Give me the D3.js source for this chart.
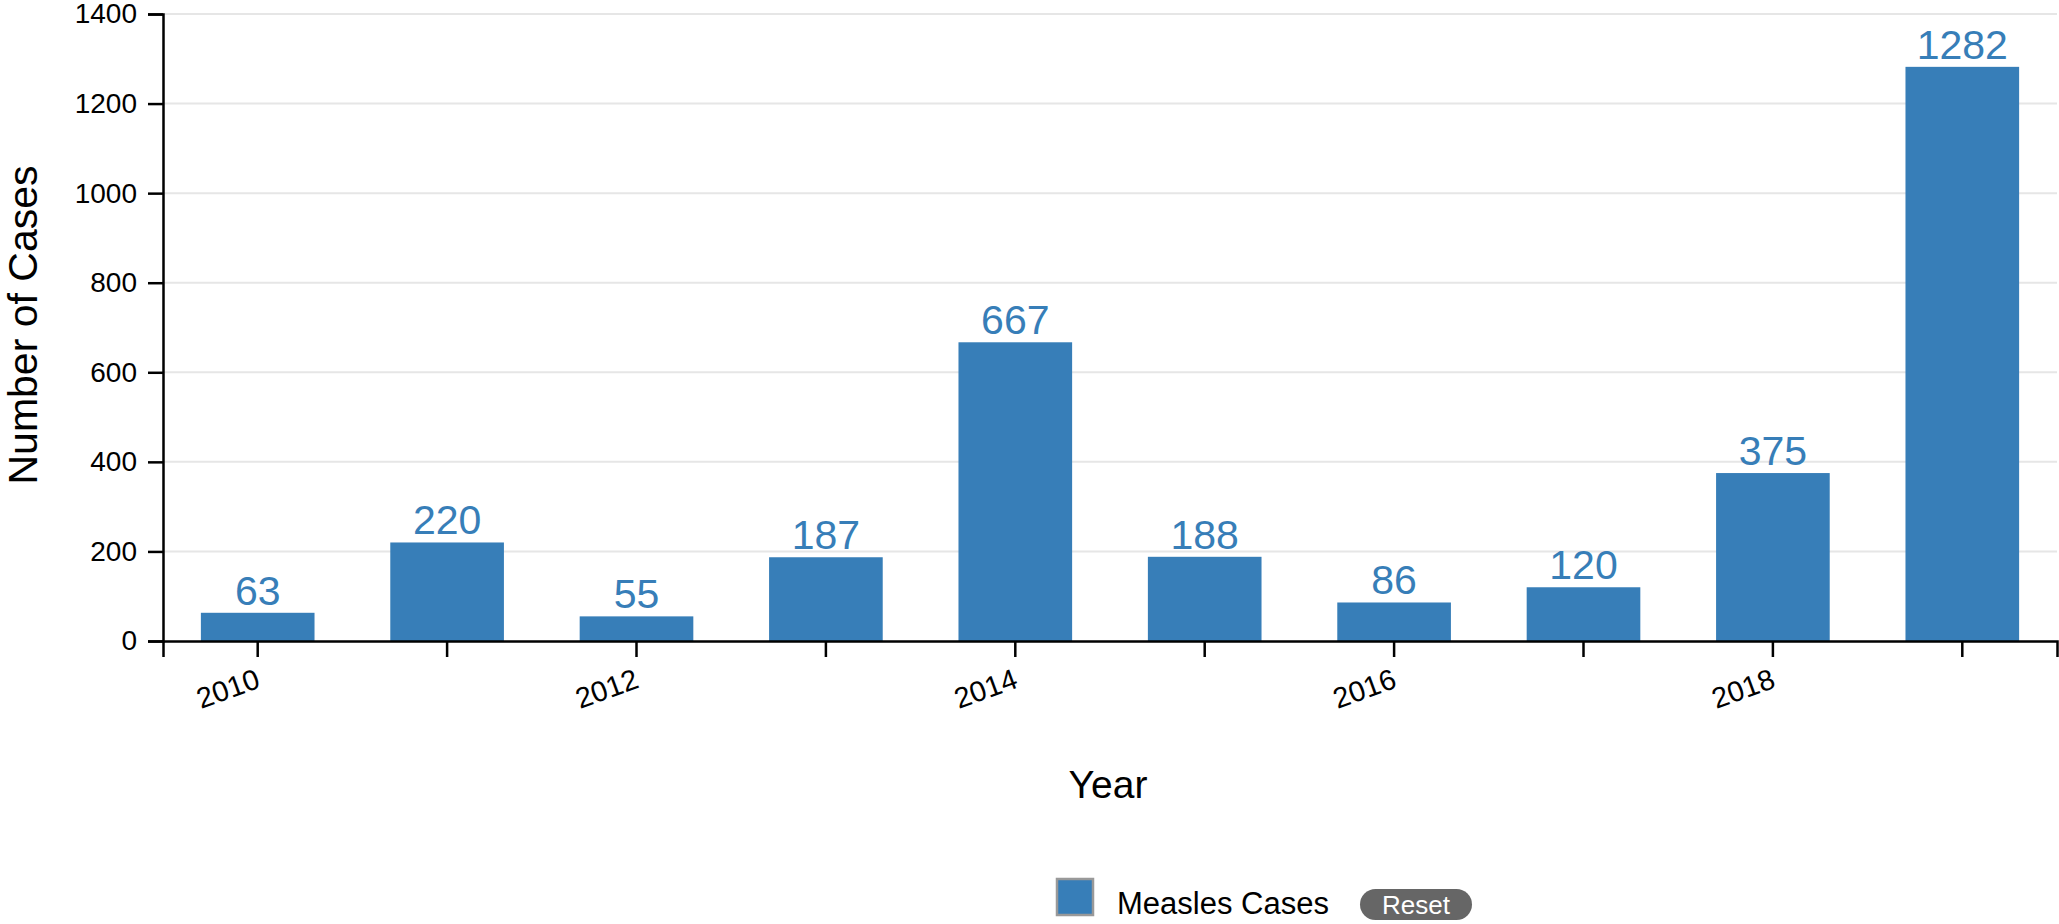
<!DOCTYPE html>
<html>
<head>
<meta charset="utf-8">
<script src="https://cdn.jsdelivr.net/npm/d3@7.9.0/dist/d3.min.js"></script>
<style>
  body { margin: 0; background: #fff; }
  svg { display: block; font-family: "Liberation Sans", Arial, Helvetica, sans-serif; }
  .axis path, .axis line { stroke: #000; stroke-width: 2.5; }
  .axis text { fill: #000; }
  .grid line { stroke: #e6e6e6; stroke-width: 2; }
</style>
</head>
<body>
<svg id="chart" width="2059" height="924"></svg>
<script>
// data
const years = [2010, 2011, 2012, 2013, 2014, 2015, 2016, 2017, 2018, 2019];
const cases = [63, 220, 55, 187, 667, 188, 86, 120, 375, 1282];
const yTicks = [0, 200, 400, 600, 800, 1000, 1200, 1400];
const seriesName = 'Measles Cases';

const barColor = '#377eb8';
const fontFamily = '"Liberation Sans", Arial, Helvetica, sans-serif';
const plotLeft = 163, plotRight = 2057, plotTop = 14, plotBottom = 641;

const svg = d3.select('#chart');

let x = d3.scaleBand()
  .domain(years)
  .range([plotLeft, plotRight])
  .paddingInner(0.4)
  .paddingOuter(0.2);

let y = d3.scaleLinear()
  .domain([0, 1400])
  .range([plotBottom, plotTop]);

// horizontal grid lines
svg.append('g')
  .attr('class', 'grid')
  .selectAll('line')
  .data(yTicks.filter(d => d > 0))
  .join('line')
  .attr('x1', plotLeft)
  .attr('x2', plotRight)
  .attr('y1', d => y(d))
  .attr('y2', d => y(d));

// bars
svg.append('g')
  .selectAll('rect')
  .data(years)
  .join('rect')
  .attr('x', d => x(d))
  .attr('width', x.bandwidth())
  .attr('y', (d, i) => y(cases[i]))
  .attr('height', (d, i) => y(0) - y(cases[i]))
  .attr('fill', barColor);

// value labels on top of bars
svg.append('g')
  .selectAll('text')
  .data(years)
  .join('text')
  .attr('x', d => x(d) + x.bandwidth() / 2)
  .attr('y', (d, i) => y(cases[i]) - 8)
  .attr('text-anchor', 'middle')
  .attr('font-size', 41)
  .attr('fill', barColor)
  .text((d, i) => cases[i]);

// x axis, tick every year, label every other year
let xAxis = svg.append('g')
  .attr('class', 'axis')
  .attr('transform', `translate(0,${plotBottom})`)
  .call(d3.axisBottom(x)
    .tickSize(16)
    .tickSizeOuter(16)
    .tickFormat(d => d % 2 === 0 ? d : ''))
  .attr('font-family', fontFamily)
  .attr('font-size', 29);

xAxis.selectAll('.tick text')
  .attr('y', 0)
  .attr('dy', 0)
  .attr('text-anchor', 'end')
  .attr('transform', 'translate(4,46) rotate(-20)');

// y axis
svg.append('g')
  .attr('class', 'axis')
  .attr('transform', `translate(${plotLeft},0)`)
  .call(d3.axisLeft(y)
    .tickValues(yTicks)
    .tickFormat(d3.format('d'))
    .tickSize(15)
    .tickSizeOuter(15)
    .tickPadding(11))
  .attr('font-family', fontFamily)
  .attr('font-size', 28);

// axis titles
svg.append('text')
  .attr('transform', 'translate(37,325) rotate(-90)')
  .attr('text-anchor', 'middle')
  .attr('font-size', 41)
  .text('Number of Cases');

svg.append('text')
  .attr('x', 1108)
  .attr('y', 798)
  .attr('text-anchor', 'middle')
  .attr('font-size', 39)
  .text('Year');

// legend
let legend = svg.append('g');
legend.append('rect')
  .attr('x', 1057)
  .attr('y', 879)
  .attr('width', 36)
  .attr('height', 36)
  .attr('fill', barColor)
  .attr('stroke', '#999')
  .attr('stroke-width', 2.5);
legend.append('text')
  .attr('x', 1117)
  .attr('y', 914)
  .attr('font-size', 31)
  .text(seriesName);

// reset pill
legend.append('rect')
  .attr('x', 1360)
  .attr('y', 889)
  .attr('width', 112)
  .attr('height', 31)
  .attr('rx', 15.5)
  .attr('fill', '#666');
legend.append('text')
  .attr('x', 1416)
  .attr('y', 914)
  .attr('text-anchor', 'middle')
  .attr('font-size', 26)
  .attr('fill', '#fff')
  .text('Reset');
</script>
</body>
</html>
